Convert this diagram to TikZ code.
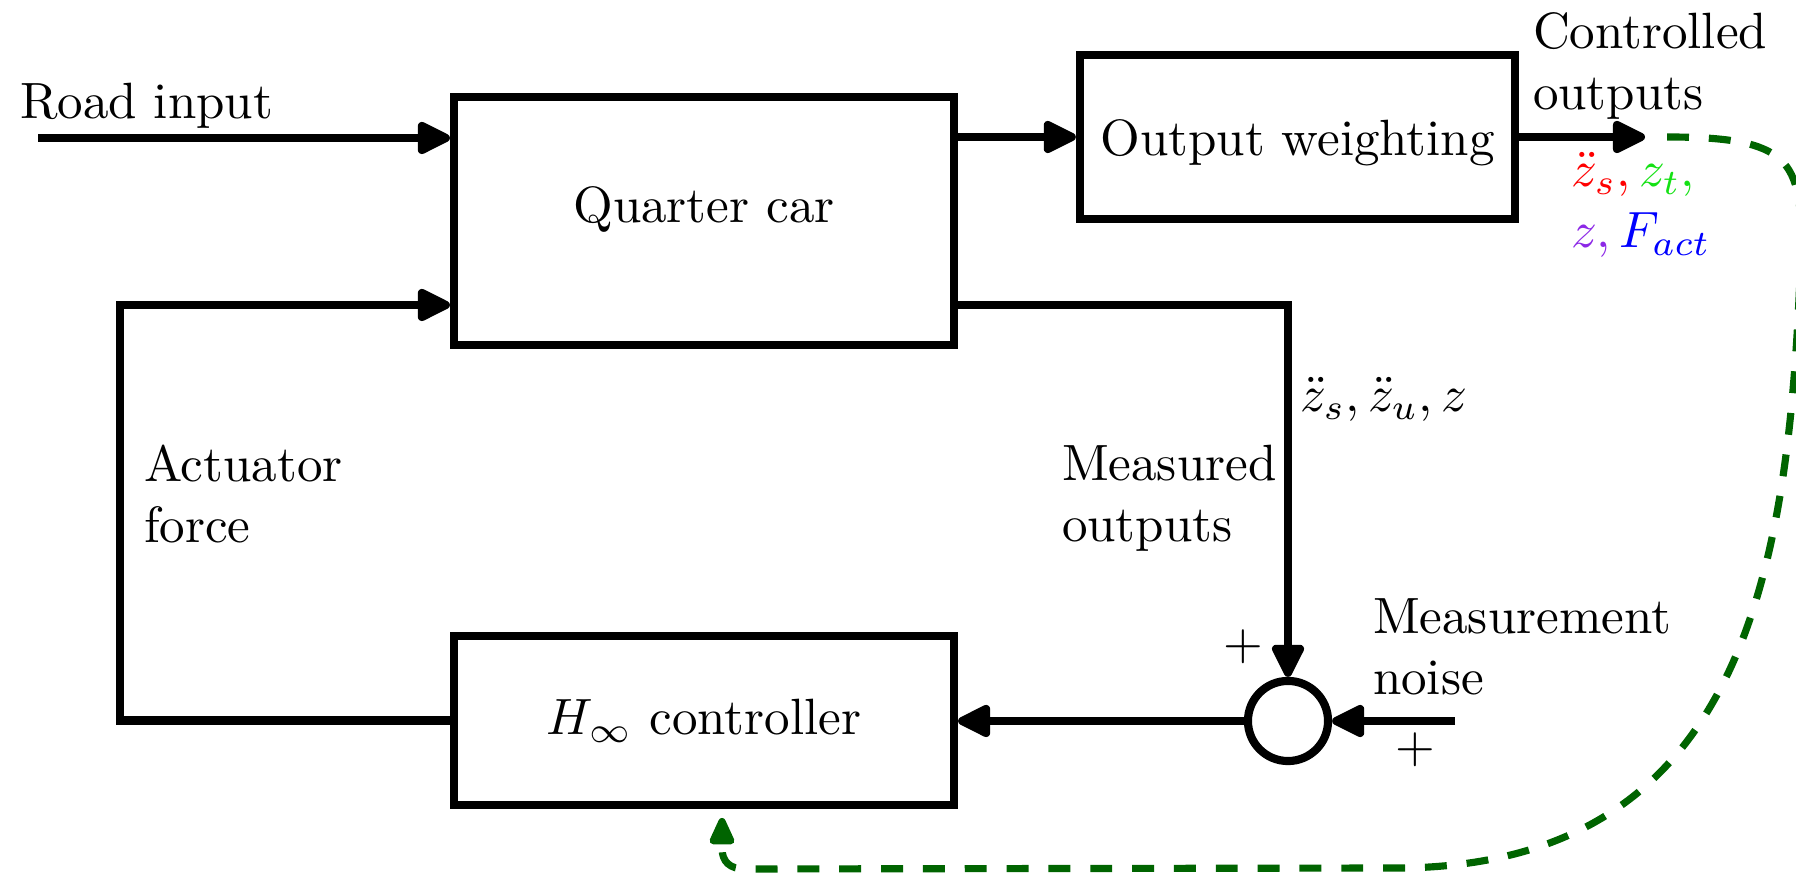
\documentclass[tikz,border=0pt]{standalone}
\usetikzlibrary{arrows.meta}
\definecolor{dgreen}{RGB}{0,100,0}
\definecolor{vio}{RGB}{140,40,230}
\definecolor{brgreen}{RGB}{20,225,20}
\definecolor{pblue}{RGB}{0,0,255}
\definecolor{pred}{RGB}{255,0,0}
\begin{document}
\begin{tikzpicture}[x=0.196pt,y=-0.196pt,
  box/.style={draw,line width=1.6pt,inner sep=0pt,align=center},
  conn/.style={line width=1.6pt,-{Triangle[length=7.4pt,width=6.8pt,round]}},
  wire/.style={line width=1.6pt},
  dashconn/.style={line width=1.4pt,color=dgreen,dash pattern=on 4.3pt off 3.9pt,-{Triangle[length=6.3pt,width=5.2pt,round]}},
  lbl/.style={anchor=base west,inner sep=0pt,align=left}]
\clip (0,0) rectangle (1796,874);
% blocks
\node[box,minimum width=98pt,minimum height=48.6pt,text depth=6.4pt] (qc) at (704,221) {Quarter car};
\node[box,minimum width=85.3pt,minimum height=32.1pt,text height=9.3pt,text depth=1.94pt] (ow) at (1297.5,137) {Output weighting};
\node[box,minimum width=98pt,minimum height=33.1pt] (hc) at (704,720.5) {$H_\infty$ controller};
\node[draw,circle,line width=1.6pt,minimum size=15.7pt,inner sep=0pt] (sum) at (1288,721) {};
% free ends
\coordinate (rin) at (38,138);
\coordinate (act) at (120,305);
\coordinate (meas) at (1288,305);
\coordinate (cout) at (1645,137);
\coordinate (noise) at (1455,721);
\coordinate (dstart) at (1667,137);
\coordinate (dend) at (722,818);
% connectors
\draw[conn] (rin) -- (rin -| qc.west);
\draw[conn] (hc.west) -| (act) -- (act -| qc.west);
\draw[conn] (qc.east |- ow.west) -- (ow.west);
\draw[conn] (ow.east) -- (cout);
\draw[conn] (qc.east |- meas) -| (sum.north);
\draw[conn] (noise) -- (sum.east);
\draw[conn] (sum.west) -- (sum.west -| hc.east);
\draw[dashconn] (dstart) .. controls (1790,137) and (1802,160) .. (1801,250)
  .. controls (1790,560) and (1750,865) .. (1400,868) -- (745,869)
  .. controls (730,869) and (722,862) .. (722,848) -- (dend);
% labels
\node[lbl] (lroad) at (19,119) {Road input};
\node[lbl] (lco) at (1532,110) {Controlled\\outputs};
\node[lbl] (lcov) at (1570,248) {$\color{pred}\ddot{z}_s,\,$$\color{brgreen}z_t,$\\$\color{vio}z,\,$$\color{pblue}F_{act}$};
\node[lbl] (lmv) at (1299,412) {$\ddot{z}_s,\ddot{z}_u,z$};
\node[lbl] (lmo) at (1061,542) {Measured\\outputs};
\node[lbl] (laf) at (143,543) {Actuator\\force};
\node[lbl] (lmn) at (1372,695) {Measurement\\noise};
\node (p1) at (1243,647) {$+$};
\node (p2) at (1415,750) {$+$};
\end{tikzpicture}
\end{document}
